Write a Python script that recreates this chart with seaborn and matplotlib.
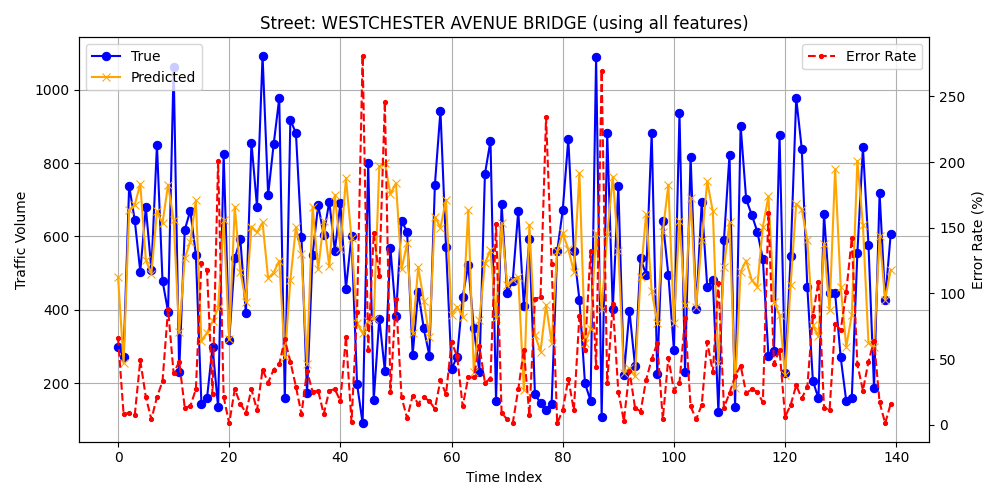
import numpy as np
import matplotlib
matplotlib.use("Agg")
import matplotlib.pyplot as plt
import seaborn as sns

# values
true_vals = [299, 272, 738, 645, 504, 679, 509, 850, 479, 395,
             1062, 231, 618, 670, 550, 143, 158, 299, 134, 824,
             317, 540, 592, 390, 856, 681, 1093, 713, 852, 977,
             158, 918, 882, 598, 172, 550, 686, 604, 695, 561,
             691, 457, 602, 197, 90, 800, 154, 376, 233, 568,
             383, 642, 613, 277, 449, 349, 275, 741, 943, 572,
             238, 272, 436, 522, 349, 231, 770, 861, 152, 689,
             445, 479, 670, 411, 592, 170, 145, 126, 143, 559,
             672, 866, 560, 427, 199, 152, 1089, 108, 882, 401,
             738, 222, 397, 247, 540, 495, 882, 225, 642, 495,
             290, 936, 231, 818, 401, 693, 461, 481, 122, 590,
             823, 134, 902, 701, 659, 613, 539, 274, 287, 877,
             228, 547, 977, 839, 461, 206, 158, 661, 445, 445,
             270, 151, 160, 554, 843, 577, 186, 718, 427, 607]

pred_vals = [490, 254, 672, 686, 743, 536, 498, 668, 636, 741,
             645, 338, 540, 586, 698, 315, 337, 368, 404, 645,
             319, 681, 504, 422, 627, 611, 638, 486, 501, 534,
             270, 481, 625, 552, 252, 681, 510, 641, 518, 713,
             566, 759, 595, 363, 336, 370, 376, 791, 800, 716,
             745, 510, 581, 336, 516, 425, 325, 654, 624, 700,
             386, 408, 381, 671, 231, 372, 527, 563, 377, 636,
             468, 481, 490, 181, 631, 331, 286, 413, 310, 559,
             609, 565, 504, 772, 310, 347, 609, 401, 606, 763,
             560, 228, 240, 219, 490, 661, 452, 365, 613, 741,
             365, 642, 413, 706, 408, 589, 750, 668, 254, 516,
             638, 186, 504, 534, 481, 463, 627, 709, 422, 386,
             222, 468, 689, 674, 590, 358, 327, 579, 399, 783,
             463, 299, 386, 806, 631, 310, 299, 601, 427, 509]

err_vals = [66, 8, 9, 7, 49, 21, 4, 21, 33, 88,
            39, 48, 13, 14, 27, 123, 118, 23, 201, 21,
            1, 27, 16, 9, 27, 11, 42, 32, 42, 46,
            65, 48, 29, 8, 41, 25, 26, 8, 26, 27,
            18, 67, 2, 86, 281, 57, 146, 113, 246, 25,
            96, 21, 5, 22, 16, 21, 18, 12, 34, 23,
            63, 52, 14, 36, 36, 60, 32, 35, 153, 9,
            4, 1, 27, 57, 7, 96, 97, 234, 122, 1,
            11, 35, 11, 83, 57, 132, 44, 269, 32, 92,
            25, 3, 41, 13, 10, 34, 50, 62, 4, 51,
            26, 32, 81, 14, 4, 15, 63, 40, 108, 13,
            24, 37, 45, 24, 27, 25, 17, 161, 46, 57,
            6, 15, 30, 20, 29, 83, 109, 13, 11, 77,
            72, 101, 142, 46, 26, 48, 64, 17, 1, 16]

time_idx = np.arange(len(true_vals))

fig, ax1 = plt.subplots(figsize=(10, 5))

sns.lineplot(x=time_idx, y=true_vals, ax=ax1, color="blue", marker="o",
             markersize=6, markeredgecolor="blue", label="True")
sns.lineplot(x=time_idx, y=pred_vals, ax=ax1, color="orange", marker="x",
             markersize=6, markeredgecolor="orange", label="Predicted")
ax1.set_xlabel("Time Index")
ax1.set_ylabel("Traffic Volume")
ax1.grid(True)
ax1.legend(loc="upper left")

ax2 = ax1.twinx()
sns.lineplot(x=time_idx, y=err_vals, ax=ax2, color="red", marker=".",
             markeredgecolor="red", linestyle="--", label="Error Rate")
ax2.set_ylabel("Error Rate (%)")
ax2.legend(loc="upper right")

plt.title("Street: WESTCHESTER AVENUE BRIDGE (using all features)")
plt.tight_layout()
plt.savefig("out.png", dpi=100)
